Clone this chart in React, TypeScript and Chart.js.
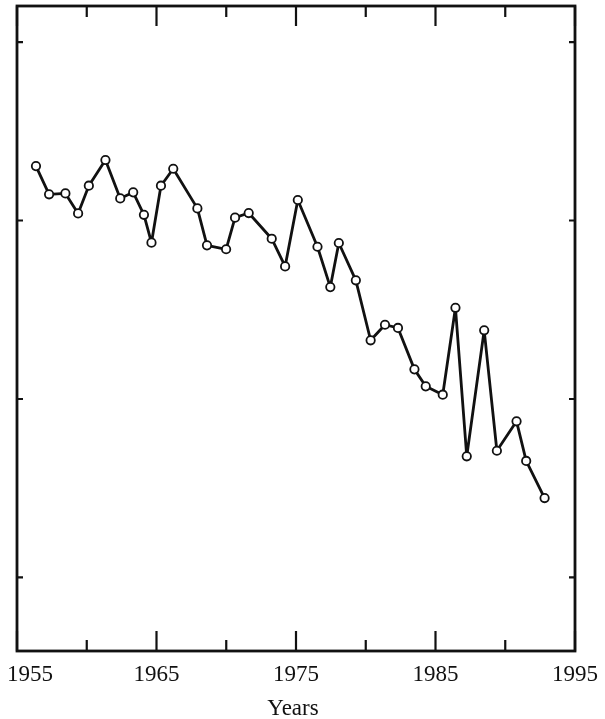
import React, { useEffect, useRef } from "react";
import { Chart, registerables } from "chart.js";

Chart.register(...registerables);

// Data
const years = [
  1956.36, 1957.3, 1958.47, 1959.38, 1960.15, 1961.34, 1962.4, 1963.33, 1964.1,
  1964.64, 1965.32, 1966.2, 1967.93, 1968.62, 1969.99, 1970.63, 1971.61, 1973.26,
  1974.22, 1975.13, 1976.54, 1977.46, 1978.07, 1979.29, 1980.35, 1981.38, 1982.31,
  1983.49, 1984.3, 1985.52, 1986.43, 1987.24, 1988.49, 1989.4, 1990.81, 1991.5,
  1992.82,
];
const values = [
  3.305, 3.147, 3.152, 3.04, 3.195, 3.339, 3.124, 3.158, 3.032, 2.876, 3.195, 3.29,
  3.068, 2.861, 2.839, 3.016, 3.042, 2.898, 2.743, 3.115, 2.853, 2.627, 2.874, 2.665,
  2.329, 2.416, 2.398, 2.166, 2.071, 2.024, 2.511, 1.679, 2.385, 1.71, 1.875, 1.653,
  1.445,
];
const xMajorTicks = [1955, 1965, 1975, 1985, 1995];
const xMinorTicks = [1960, 1970, 1980, 1990];
const xTickLabels = ["1955", "1965", "1975", "1985", "1995"];
const yTicks = [1, 2, 3, 4];
const xTitle = "Years";

const frame = {
  id: "frame",
  afterDraw(chart: any) {
    const { ctx, chartArea: a, scales } = chart;
    const x = scales.x;
    const y = scales.y;
    ctx.save();
    ctx.strokeStyle = "#111";
    ctx.lineWidth = 2.8;
    ctx.strokeRect(a.left, a.top, a.right - a.left, a.bottom - a.top);
    ctx.lineWidth = 2.2;
    ctx.beginPath();
    xMajorTicks.forEach((v) => {
      const px = x.getPixelForValue(v);
      ctx.moveTo(px, a.bottom);
      ctx.lineTo(px, a.bottom - 20);
      ctx.moveTo(px, a.top);
      ctx.lineTo(px, a.top + 20);
    });
    xMinorTicks.forEach((v) => {
      const px = x.getPixelForValue(v);
      ctx.moveTo(px, a.bottom);
      ctx.lineTo(px, a.bottom - 11);
      ctx.moveTo(px, a.top);
      ctx.lineTo(px, a.top + 11);
    });
    yTicks.forEach((v) => {
      const py = y.getPixelForValue(v);
      ctx.moveTo(a.left, py);
      ctx.lineTo(a.left + 6, py);
      ctx.moveTo(a.right, py);
      ctx.lineTo(a.right - 6, py);
    });
    ctx.stroke();

    ctx.fillStyle = "#111";
    ctx.font = '23px "Liberation Serif", "DejaVu Serif", serif';
    ctx.textBaseline = "alphabetic";
    ctx.textAlign = "center";
    const W = chart.width;
    xMajorTicks.forEach((v, i) => {
      const label = xTickLabels[i];
      const w = ctx.measureText(label).width;
      let cx = x.getPixelForValue(v);
      cx = Math.max(cx, w / 2 + 7);
      cx = Math.min(cx, W - w / 2 - 4);
      ctx.fillText(label, cx, a.bottom + 30);
    });
    ctx.fillText(xTitle, (a.left + a.right) / 2 - 3, a.bottom + 64);
    ctx.restore();
  },
};

export default function App() {
  const ref = useRef<HTMLCanvasElement | null>(null);
  useEffect(() => {
    if (!ref.current) return;
    const chart = new Chart(ref.current, {
      type: "scatter",
      data: {
        datasets: [
          {
            data: years.map((yr, i) => ({ x: yr, y: values[i] })),
            showLine: true,
            borderColor: "#111",
            borderWidth: 2.8,
            borderJoinStyle: "round",
            borderCapStyle: "round",
            pointRadius: 4.2,
            pointBorderWidth: 1.8,
            pointBackgroundColor: "#fff",
            pointBorderColor: "#111",
            tension: 0,
          },
        ],
      },
      options: {
        animation: false,
        responsive: false,
        layout: { padding: { left: 17, right: 30, top: 6, bottom: 68 } },
        plugins: { legend: { display: false }, tooltip: { enabled: false } },
        scales: {
          x: { type: "linear", min: 1955, max: 1995, display: false },
          y: { type: "linear", min: 0.588, max: 4.202, display: false },
        },
      },
      plugins: [frame],
    });
    return () => chart.destroy();
  }, []);
  return (
    <div style={{ position: "absolute", left: 0, top: 0, width: 605, height: 719, background: "#fff" }}>
      <canvas ref={ref} width={605} height={719} />
    </div>
  );
}
